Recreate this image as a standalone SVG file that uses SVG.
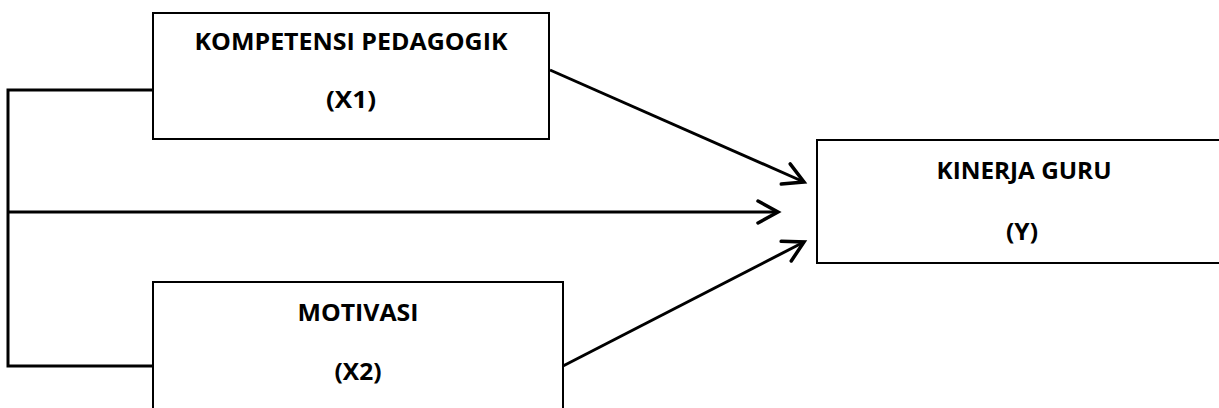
<svg xmlns="http://www.w3.org/2000/svg" width="1219" height="408" viewBox="0 0 1219 408">
<style>
.box{fill:#fff;stroke:#000;stroke-width:2}
.lbl{font-family:"Open Sans","Liberation Sans",sans-serif;font-weight:bold;font-size:24px;fill:#000;text-anchor:middle}
.con{fill:none;stroke:#000;stroke-width:3}
</style>
<defs>
<marker id="arr" markerUnits="userSpaceOnUse" markerWidth="30" markerHeight="30" viewBox="-25 -15 30 30" refX="0" refY="0" orient="auto">
<path d="M-20,-11 L0,0 L-20,11" fill="none" stroke="#000" stroke-width="3.5" stroke-linecap="round"/>
</marker>
</defs>
<g id="connectors">
<polyline class="con" points="153,90 8,90 8,366 153,366"/>
<line class="con" x1="8" y1="212" x2="778" y2="212" marker-end="url(#arr)"/>
<line class="con" x1="550" y1="70" x2="804" y2="182" marker-end="url(#arr)"/>
<line class="con" x1="563" y1="366" x2="804" y2="242" marker-end="url(#arr)"/>
</g>
<g id="x1">
<rect class="box" x="153" y="13" width="396" height="126"/>
<text class="lbl" x="351" y="50" textLength="313" lengthAdjust="spacingAndGlyphs">KOMPETENSI PEDAGOGIK</text>
<text class="lbl" x="351" y="108" textLength="50" lengthAdjust="spacingAndGlyphs">(X1)</text>
</g>
<g id="x2">
<rect class="box" x="153" y="282" width="410" height="140"/>
<text class="lbl" x="358" y="321" textLength="121" lengthAdjust="spacingAndGlyphs">MOTIVASI</text>
<text class="lbl" x="358" y="380" textLength="47" lengthAdjust="spacingAndGlyphs">(X2)</text>
</g>
<g id="y">
<rect class="box" x="817" y="140" width="420" height="123"/>
<text class="lbl" x="1024" y="179" textLength="175" lengthAdjust="spacingAndGlyphs">KINERJA GURU</text>
<text class="lbl" x="1022" y="240" textLength="32" lengthAdjust="spacingAndGlyphs">(Y)</text>
</g>
</svg>
